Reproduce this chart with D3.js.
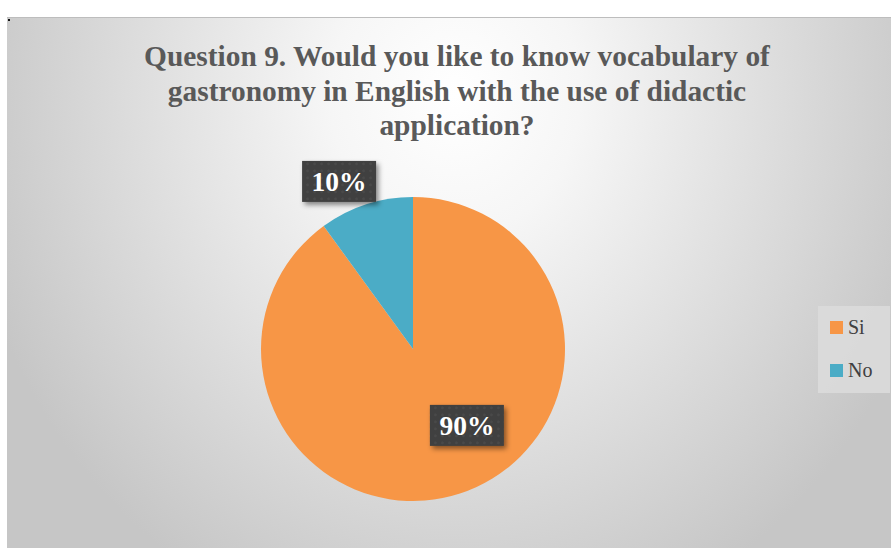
<!DOCTYPE html>
<html>
<head>
<meta charset="utf-8">
<script src="https://cdn.jsdelivr.net/npm/d3@7/dist/d3.min.js"></script>
<style>
  html, body { margin: 0; padding: 0; background: #ffffff; }
  svg { display: block; }
</style>
</head>
<body>
<div id="chart"></div>
<script>
// Survey answers for question 9
const categories = ["Si", "No"];
const values = [90, 10];
const sliceColors = ["#F79646", "#4BACC6"];
const titleLines = [
  "Question 9. Would you like to know vocabulary of",
  "gastronomy in English with the use of didactic",
  "application?"
];

const W = 891, H = 548;
const frame = { x: 7, y: 17, w: W - 7, h: H - 17 };
const cx = 413, cy = 349, radius = 152;
const serif = "Liberation Serif";

const svg = d3.select("#chart").append("svg")
  .attr("width", W).attr("height", H);

const defs = svg.append("defs");

// soft grey background, brightest just under the title
const bg = defs.append("radialGradient")
  .attr("id", "bgGrad")
  .attr("gradientUnits", "userSpaceOnUse")
  .attr("cx", 0).attr("cy", 0).attr("r", 1)
  .attr("gradientTransform", `translate(455,95) scale(500,560)`);
bg.append("stop").attr("offset", 0).attr("stop-color", "#ffffff");
bg.append("stop").attr("offset", 0.25).attr("stop-color", "#f6f6f6");
bg.append("stop").attr("offset", 1).attr("stop-color", "#c6c6c6");

// dotted dark fill for the data labels
const pat = defs.append("pattern")
  .attr("id", "dots")
  .attr("patternUnits", "userSpaceOnUse")
  .attr("width", 7).attr("height", 7);
pat.append("rect").attr("width", 7).attr("height", 7).attr("fill", "#3f3f3f");
pat.append("circle").attr("cx", 3.5).attr("cy", 3.5).attr("r", 1.3).attr("fill", "#4b4b4b");

const shadow = defs.append("filter")
  .attr("id", "shadow")
  .attr("x", "-30%").attr("y", "-30%").attr("width", "160%").attr("height", "170%");
shadow.append("feDropShadow")
  .attr("dx", 2.5).attr("dy", 3).attr("stdDeviation", 2.5)
  .attr("flood-color", "#000").attr("flood-opacity", 0.45);

// chart area
svg.append("rect")
  .attr("x", frame.x).attr("y", frame.y)
  .attr("width", frame.w).attr("height", frame.h)
  .attr("fill", "url(#bgGrad)");
svg.append("line")
  .attr("x1", frame.x).attr("x2", W)
  .attr("y1", frame.y + 0.5).attr("y2", frame.y + 0.5)
  .attr("stroke", "#bdbdbd").attr("stroke-width", 1);
svg.append("rect")
  .attr("x", 8).attr("y", 19).attr("width", 2).attr("height", 2)
  .attr("fill", "#111");

// title
const title = svg.append("text")
  .attr("text-anchor", "middle")
  .attr("font-family", serif)
  .attr("font-weight", "bold")
  .attr("font-size", 29.4)
  .attr("fill", "#595959");
titleLines.forEach((t, i) => {
  title.append("tspan")
    .attr("x", 457)
    .attr("y", 66 + i * 34.5)
    .text(t);
});

// pie
const data = categories.map((c, i) => ({ name: c, value: values[i], color: sliceColors[i] }));
const pie = d3.pie().value(d => d.value).sort(null);
const arcs = pie(data);
const arc = d3.arc().innerRadius(0).outerRadius(radius);

const g = svg.append("g").attr("transform", `translate(${cx},${cy})`);
g.selectAll("path.slice")
  .data(arcs)
  .join("path")
  .attr("class", "slice")
  .attr("d", arc)
  .attr("fill", d => d.data.color);

// data labels: radial distance (fraction of radius) and angular shift from slice middle
const labelPlacement = [
  { r: 0.615, shift: -17.2 },
  { r: 1.205, shift: -5.8 }
];
const boxW = 74, boxH = 41;
const labels = g.selectAll("g.label")
  .data(arcs)
  .join("g")
  .attr("class", "label")
  .attr("transform", (d, i) => {
    const p = labelPlacement[i];
    const a = (d.startAngle + d.endAngle) / 2 + p.shift * Math.PI / 180;
    const x = Math.sin(a) * radius * p.r;
    const y = -Math.cos(a) * radius * p.r;
    return `translate(${x},${y})`;
  });
labels.append("rect")
  .attr("x", -boxW / 2).attr("y", -boxH / 2)
  .attr("width", boxW).attr("height", boxH)
  .attr("fill", "url(#dots)")
  .attr("filter", "url(#shadow)");
labels.append("text")
  .attr("text-anchor", "middle")
  .attr("y", 10)
  .attr("font-family", serif)
  .attr("font-weight", "bold")
  .attr("font-size", 27.5)
  .attr("fill", "#ffffff")
  .text(d => {
    const total = d3.sum(values);
    return Math.round(d.data.value / total * 100) + "%";
  });

// legend
const legend = svg.append("g").attr("transform", "translate(818,306)");
legend.append("rect")
  .attr("width", 72).attr("height", 87)
  .attr("fill", "#dcdcdc").attr("fill-opacity", 0.85);
const items = legend.selectAll("g.item")
  .data(data)
  .join("g")
  .attr("class", "item")
  .attr("transform", (d, i) => `translate(12,${15 + i * 43})`);
items.append("rect")
  .attr("width", 13).attr("height", 13)
  .attr("fill", d => d.color);
items.append("text")
  .attr("x", 18).attr("y", 13)
  .attr("font-family", serif)
  .attr("font-size", 20)
  .attr("fill", "#404040")
  .text(d => d.name);
</script>
</body>
</html>
